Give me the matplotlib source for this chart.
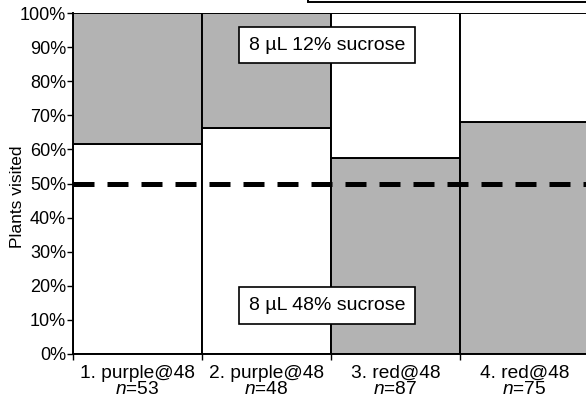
import matplotlib
matplotlib.use("Agg")
from matplotlib import pyplot as plt
from matplotlib.patches import Rectangle

plt.rcParams['font.family'] = ['Liberation Sans', 'DejaVu Sans']
plt.rcParams['mathtext.fontset'] = 'custom'
plt.rcParams['mathtext.it'] = 'Liberation Sans:italic'
plt.rcParams['mathtext.rm'] = 'Liberation Sans'

# data
groups = ["1. purple@48", "2. purple@48", "3. red@48", "4. red@48"]
n_values = [53, 48, 87, 75]
lower_pct = [61.7, 66.3, 57.4, 67.9]          # lower segment height (%)
lower_gray = [False, False, True, True]       # which color sits at the bottom
y_ticks = [0, 10, 20, 30, 40, 50, 60, 70, 80, 90, 100]
chance_line = 50

gray = '#b3b3b3'

fig = plt.figure(figsize=(5.86, 4.07), dpi=100)
W, H = 586, 407
ax = fig.add_axes([73 / W, (H - 354) / H, (589 - 73) / W, (354 - 13) / H])

x = list(range(len(groups)))
for i in x:
    low_c = gray if lower_gray[i] else 'white'
    up_c = 'white' if lower_gray[i] else gray
    ax.bar(i + 0.5, lower_pct[i], width=1.0, color=low_c, edgecolor='black', linewidth=1.4)
    ax.bar(i + 0.5, 100 - lower_pct[i], bottom=lower_pct[i], width=1.0, color=up_c,
           edgecolor='black', linewidth=1.4)

ax.axhline(chance_line, color='black', linewidth=3.6, dashes=(4.2, 2.6), zorder=5)

box = dict(boxstyle='square,pad=0.5', facecolor='white', edgecolor='black', linewidth=1.2)
ax.text(1.97, 90.6, "8 µL 12% sucrose", ha='center', va='center', fontsize=14, bbox=box, zorder=6)
ax.text(1.97, 14.2, "8 µL 48% sucrose", ha='center', va='center', fontsize=14, bbox=box, zorder=6)

ax.set_xlim(0, 4)
ax.set_ylim(0, 100)
ax.set_yticks(y_ticks)
ax.set_yticklabels([f"{t}%" for t in y_ticks], fontsize=13)
ax.set_xticks([0, 1, 2, 3, 4])
ax.set_xticklabels([])
ax.set_xticks([i + 0.5 for i in x], minor=True)
ax.set_xticklabels([f"{g}\n$\\it{{n}}$={n}" for g, n in zip(groups, n_values)], minor=True,
                   fontsize=13.8, linespacing=0.95)
ax.tick_params(axis='x', which='minor', length=0, pad=8)
ax.tick_params(axis='x', which='major', length=4, width=1, direction='out')
ax.tick_params(axis='y', length=4, width=1, direction='out', pad=1)
ax.set_ylabel("Plants visited", fontsize=12.5)
ax.yaxis.set_label_coords(-0.093, 0.46)
for s in ['top', 'right']:
    ax.spines[s].set_visible(False)
ax.spines['left'].set_linewidth(1.4)
ax.spines['bottom'].set_linewidth(1.4)

# legend box cut off at top of image
fig.add_artist(Rectangle((308 / W, 1 - 1.5 / H), 1, 0.2, transform=fig.transFigure,
                         facecolor='white', edgecolor='black', linewidth=1.4, clip_on=False))

fig.savefig("out.png", dpi=100)
